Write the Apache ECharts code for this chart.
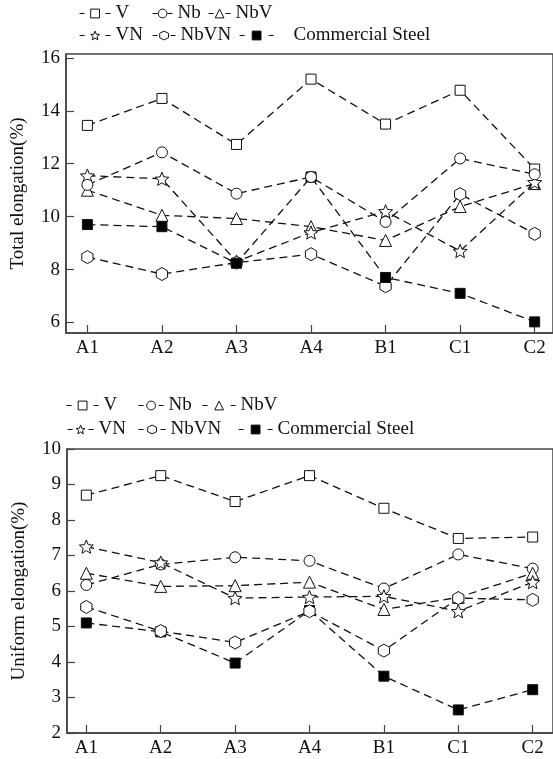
<!DOCTYPE html>
<html>
<head>
<meta charset="utf-8">
<script src="https://cdn.jsdelivr.net/npm/echarts@6/dist/echarts.min.js"></script>
<style>
  html, body { margin: 0; padding: 0; background: #fff; }
  #chart { width: 553px; height: 759px; }
</style>
</head>
<body>
<div id="chart"></div>
<script>
// Sample designations along the x axis
const categories = ['A1', 'A2', 'A3', 'A4', 'B1', 'C1', 'C2'];
const seriesNames = ['V', 'Nb', 'NbV', 'VN', 'NbVN', 'Commercial Steel'];

// Total elongation (%)
const totalV    = [13.45, 14.47, 12.73, 15.2, 13.5, 14.78, 11.8];
const totalNb   = [11.2, 12.43, 10.87, 11.5, 9.8, 12.2, 11.6];
const totalNbV  = [11.0, 10.05, 9.93, 9.62, 9.1, 10.38, 11.25];
const totalVN   = [11.55, 11.43, 8.3, 9.4, 10.2, 8.7, 11.3];
const totalNbVN = [8.47, 7.83, 8.26, 8.58, 7.37, 10.85, 9.35];
const totalCS   = [9.7, 9.62, 8.24, 11.5, 7.7, 7.1, 6.02];

// Uniform elongation (%)
const uniV    = [8.7, 9.25, 8.52, 9.25, 8.33, 7.48, 7.52];
const uniNb   = [6.17, 6.75, 6.95, 6.85, 6.07, 7.03, 6.63];
const uniNbV  = [6.5, 6.13, 6.15, 6.25, 5.48, 5.82, 6.5];
const uniVN   = [7.25, 6.8, 5.8, 5.83, 5.85, 5.43, 6.25];
const uniNbVN = [5.55, 4.87, 4.55, 5.43, 4.32, 5.8, 5.75];
const uniCS   = [5.1, 4.85, 3.97, 5.45, 3.6, 2.65, 3.22];

// Tick values
const totalTicks = [6, 8, 10, 12, 14, 16];
const uniTicks = [2, 3, 4, 5, 6, 7, 8, 9, 10];
const catTicks = categories.map((c, i) => i);

const FONT = 'Liberation Serif';
const INK = '#111';
const AXIS = '#444';

const STAR = 'path://M50 0 L62.93 32.2 L97.55 34.55 L70.92 56.8 L79.39 90.45 L50 72 L20.61 90.45 L29.08 56.8 L2.45 34.55 L37.07 32.2 Z';
const HEX = 'path://M50 0 L93.3 25 L93.3 75 L50 100 L6.7 75 L6.7 25 Z';

// marker look per series
const markers = {
  'V':                { symbol: 'rect', size: 10, fill: '#fff' },
  'Nb':               { symbol: 'circle', size: 11, fill: '#fff' },
  'NbV':              { symbol: 'triangle', size: 12, fill: '#fff' },
  'VN':               { symbol: STAR, size: 14, fill: '#fff' },
  'NbVN':             { symbol: HEX, size: 13, fill: '#fff' },
  'Commercial Steel': { symbol: 'rect', size: 10, fill: '#000' }
};

function makeSeries(name, values, idx, z) {
  const m = markers[name];
  return {
    name: name,
    type: 'line',
    xAxisIndex: idx,
    yAxisIndex: idx,
    z: z,
    data: values.map((v, i) => [i, v]),
    symbol: m.symbol,
    symbolSize: m.size,
    symbolKeepAspect: true,
    showAllSymbol: true,
    lineStyle: { color: INK, width: 1.3, type: [8, 5] },
    itemStyle: { color: m.fill, borderColor: INK, borderWidth: 1 },
    emphasis: { disabled: true },
    animation: false
  };
}

function xAxisFor(idx, min, max) {
  return {
    type: 'value', gridIndex: idx, min: min, max: max,
    axisLine: { onZero: false, lineStyle: { color: AXIS, width: 1.5 } },
    axisTick: { inside: true, length: 8, customValues: catTicks, lineStyle: { color: AXIS, width: 1.2 } },
    axisLabel: {
      customValues: catTicks, margin: 6,
      formatter: v => categories[Math.round(v)],
      fontFamily: FONT, fontSize: 19, color: INK
    },
    splitLine: { show: false }
  };
}

function yAxisFor(idx, min, max, ticks, title) {
  return {
    type: 'value', gridIndex: idx, min: min, max: max,
    name: title, nameLocation: 'middle', nameGap: 38,
    nameTextStyle: { fontFamily: FONT, fontSize: 19, color: INK },
    axisLine: { show: true, onZero: false, lineStyle: { color: AXIS, width: 1.5 } },
    axisTick: { show: true, inside: true, length: 8, customValues: ticks, lineStyle: { color: AXIS, width: 1.2 } },
    axisLabel: { customValues: ticks, margin: 6, fontFamily: FONT, fontSize: 19, color: INK },
    splitLine: { show: false }
  };
}

// legend entry layout: [name, left, top, iconWidth, textPad]
const legendLayout = [
  ['V', 79, 4, 31, 0], ['Nb', 152, 4, 20, 0], ['NbV', 208, 4, 22, 0],
  ['VN', 79, 26, 31, 0], ['NbVN', 152, 26, 23, 0], ['Commercial Steel', 239, 26, 34, 15],
  ['V', 66, 396, 32, 0], ['Nb', 138, 396, 25, 0], ['NbV', 202, 396, 33, 0],
  ['VN', 67, 420, 26, 0], ['NbVN', 138, 420, 27, 0], ['Commercial Steel', 238, 420, 34, 0]
];

const legends = legendLayout.map(([name, left, top, w, pad]) => ({
  data: [{
    name: name,
    itemStyle: { color: markers[name].fill, borderColor: INK, borderWidth: 1 },
    textStyle: { padding: [0, 0, 0, pad] }
  }],
  left: left, top: top, padding: 0,
  itemWidth: w, itemHeight: 11,
  selectedMode: false,
  lineStyle: { type: [5, Math.max(w - 10, 1)], width: 1.2, color: INK },
  textStyle: { fontFamily: FONT, fontSize: 19, color: INK }
}));

const topData = [totalV, totalNb, totalNbV, totalVN, totalNbVN, totalCS];
const topZ = [2, 4, 2, 2, 2, 3];
const botData = [uniV, uniNb, uniNbV, uniVN, uniNbVN, uniCS];
const botZ = [3, 3, 3, 3, 3, 2];

const series = [];
seriesNames.forEach((n, k) => series.push(makeSeries(n, topData[k], 0, topZ[k])));
seriesNames.forEach((n, k) => series.push(makeSeries(n, botData[k], 1, botZ[k])));

const chart = echarts.init(document.getElementById('chart'), null, { renderer: 'canvas' });
chart.setOption({
  backgroundColor: '#fff',
  animation: false,
  legend: legends,
  grid: [
    { left: 66, top: 54, width: 490, height: 279, show: true, borderColor: AXIS, borderWidth: 1.5, backgroundColor: 'transparent' },
    { left: 67, top: 449, width: 490, height: 284, show: true, borderColor: AXIS, borderWidth: 1.5, backgroundColor: 'transparent' }
  ],
  xAxis: [xAxisFor(0, -0.287, 6.246), xAxisFor(1, -0.26, 6.273)],
  yAxis: [
    yAxisFor(0, 5.6, 16.15, totalTicks, 'Total elongation(%)'),
    yAxisFor(1, 2, 10, uniTicks, 'Uniform elongation(%)')
  ],
  series: series
});
</script>
</body>
</html>
